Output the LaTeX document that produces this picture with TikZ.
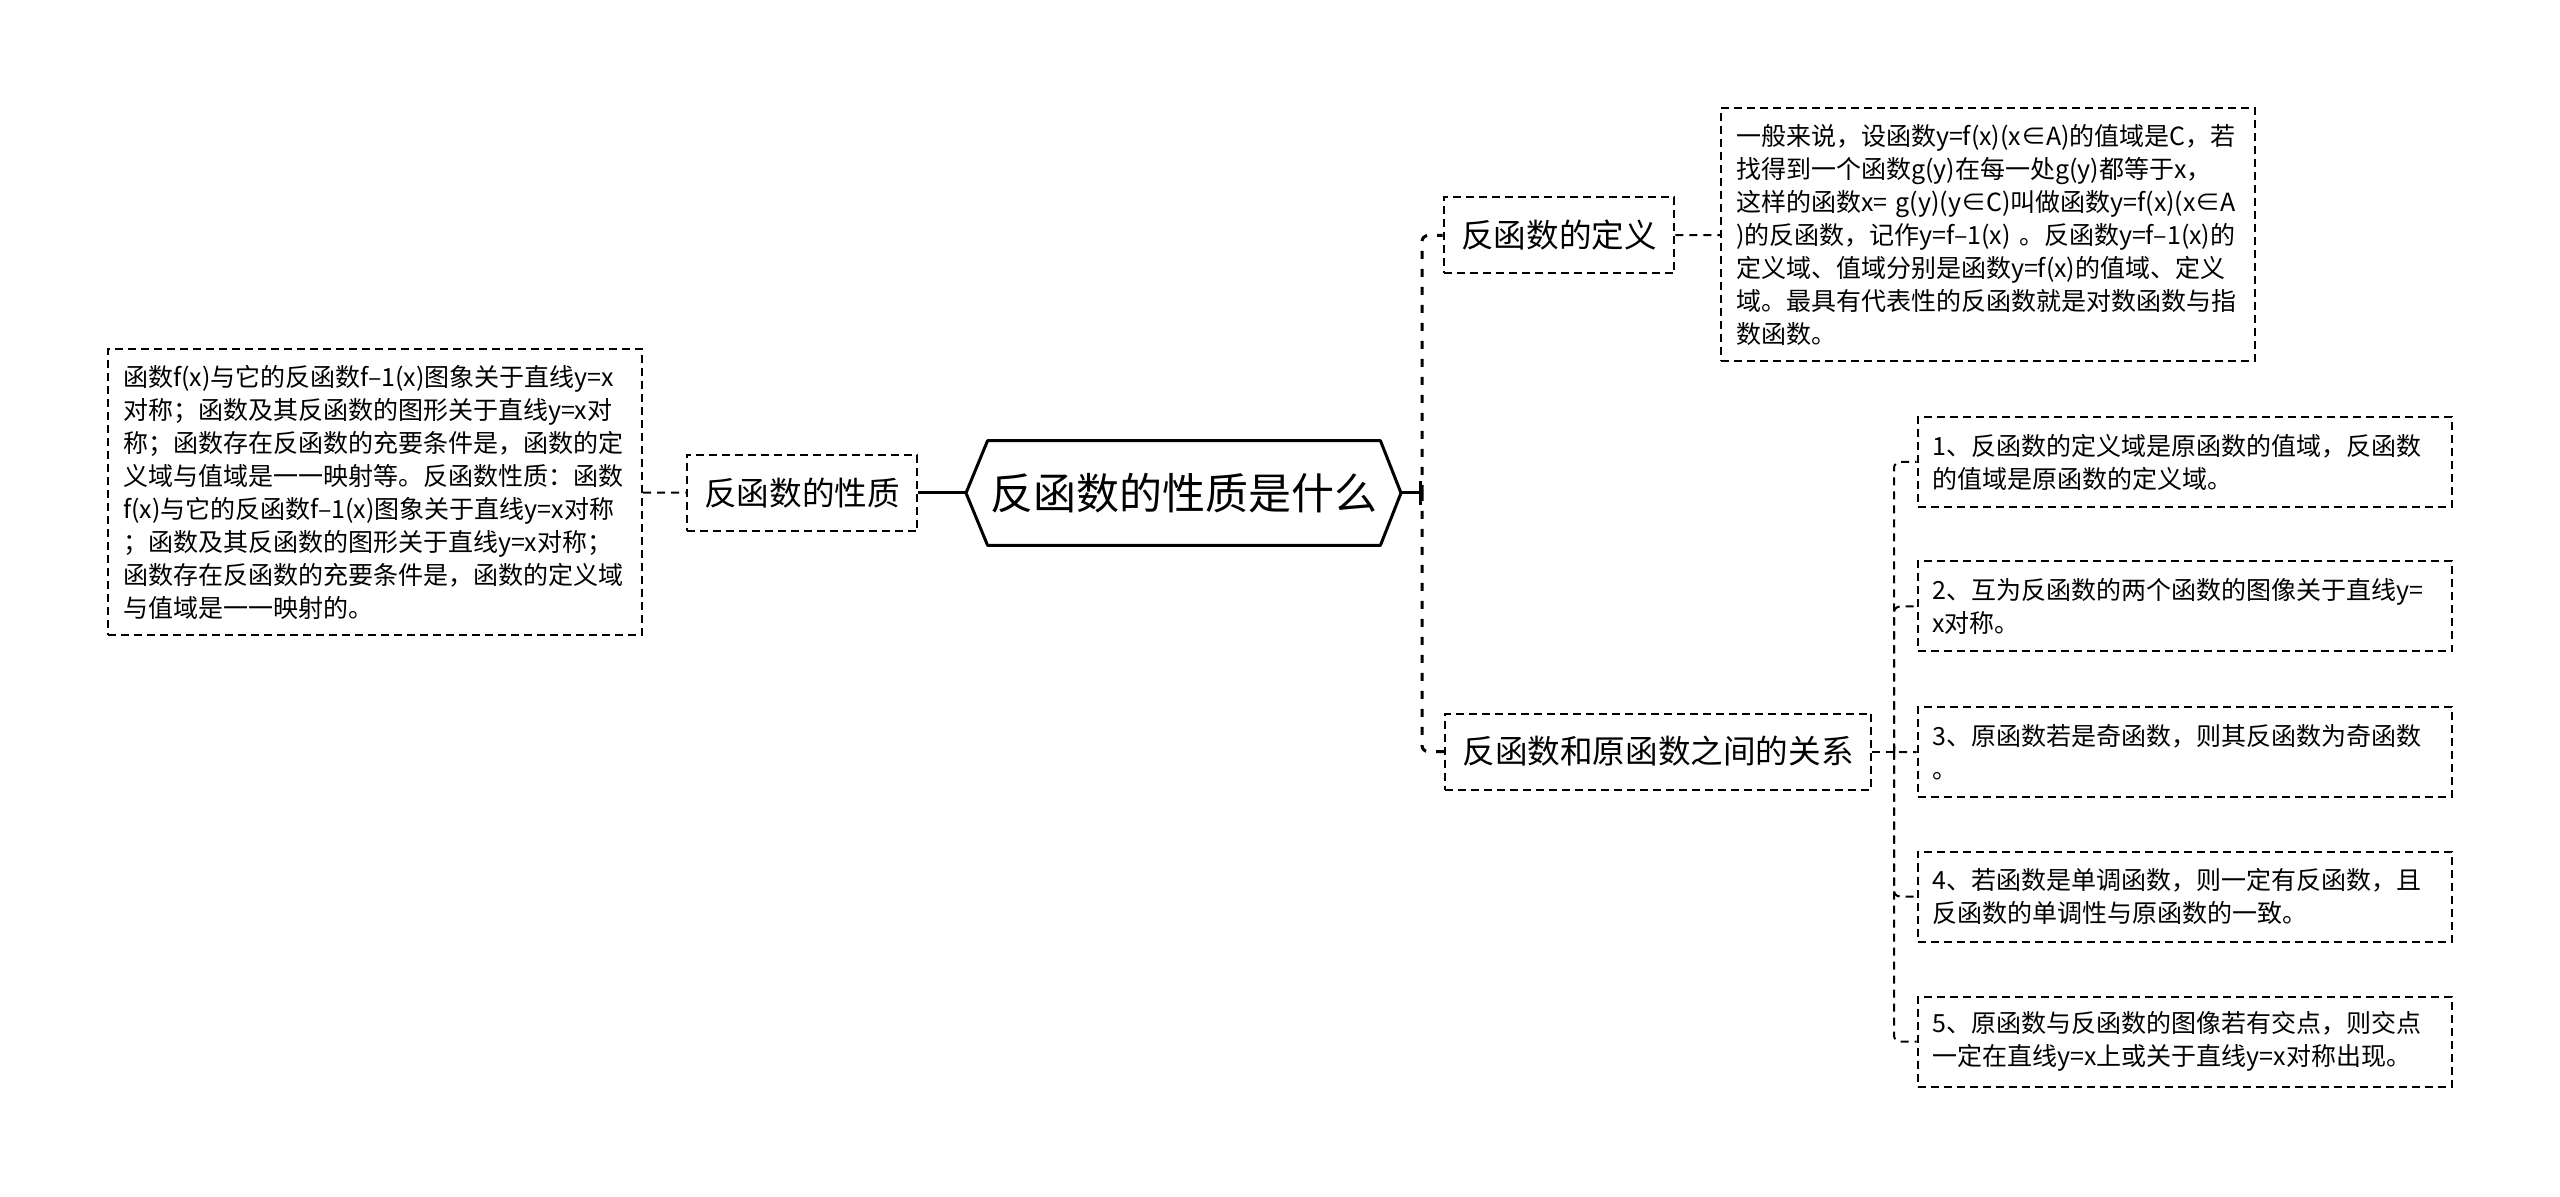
\documentclass[tikz,border=0pt]{standalone}
\usepackage{fontspec}
\setmainfont{Noto Sans CJK SC}
\usetikzlibrary{arrows.meta}
\begin{document}
\begin{tikzpicture}[x=0.5pt, y=-0.5pt,
    topic/.style={rectangle, minimum width=196pt, minimum height=52pt, inner sep=0pt, font=\fontsize{21.5}{26}\selectfont},
    branch/.style={rectangle, draw, dash pattern=on 4pt off 2.5pt, line width=1pt, minimum height=38pt, inner xsep=8.8pt, inner ysep=0pt, font=\fontsize{16.3}{20}\selectfont},
    leaf/.style={rectangle, draw, dash pattern=on 4pt off 2.5pt, line width=1pt, inner xsep=7.5pt, inner ysep=0pt, text width=252pt, align=left, font=\fontsize{12.5}{16.5}\selectfont},
    link/.style={draw, dash pattern=on 4pt off 3pt, line width=1pt, rounded corners=3pt},
    trunk/.style={draw, dash pattern=on 4pt off 5pt, line width=1.5pt, rounded corners=3pt}
]
\useasboundingbox[fill=white] (0,0) rectangle (2560,1197);

% Root
\node[topic] (root) at (1184,493) {反函数的性质是什么};
\coordinate (rootL) at (966,493);
\coordinate (rootR) at (1401,493);
\draw[line width=1.5pt, line join=round] (rootL) -- (root.north west) -- (root.north east) -- (rootR) -- (root.south east) -- (root.south west) -- cycle;

% Left side
\node[branch] (prop) at (802,493) {反函数的性质};
\node[leaf, minimum height=143pt] (proptext) at (375,492) {函数f(x)与它的反函数f–1(x)图象关于直线y=x\\
对称；函数及其反函数的图形关于直线y=x对\\
称；函数存在反函数的充要条件是，函数的定\\
义域与值域是一一映射等。反函数性质：函数\\
f(x)与它的反函数f–1(x)图象关于直线y=x对称\\
；函数及其反函数的图形关于直线y=x对称；\\
函数存在反函数的充要条件是，函数的定义域\\
与值域是一一映射的。};

% Right side
\node[branch] (def) at (1559,235.5) {反函数的定义};
\node[leaf, minimum height=126.5pt] (deftext) at (1988,234.5) {一般来说，设函数y=f(x)(x∈A)的值域是C，若\\
找得到一个函数g(y)在每一处g(y)都等于x，\\
这样的函数x= g(y)(y∈C)叫做函数y=f(x)(x∈A\\
)的反函数，记作y=f–1(x) 。反函数y=f–1(x)的\\
定义域、值域分别是函数y=f(x)的值域、定义\\
域。最具有代表性的反函数就是对数函数与指\\
数函数。};
\node[branch] (rel) at (1658,751.5) {反函数和原函数之间的关系};

% Relations
\node[leaf, minimum height=45pt] (kid1) at (2184.5,462) {1、反函数的定义域是原函数的值域，反函数\\的值域是原函数的定义域。};
\node[leaf, minimum height=45pt] (kid2) at (2184.5,606.5) {2、互为反函数的两个函数的图像关于直线y=\\x对称。};
\node[leaf, minimum height=45pt] (kid3) at (2184.5,752) {3、原函数若是奇函数，则其反函数为奇函数\\。};
\node[leaf, minimum height=45pt] (kid4) at (2184.5,896.5) {4、若函数是单调函数，则一定有反函数，且\\反函数的单调性与原函数的一致。};
\node[leaf, minimum height=45pt] (kid5) at (2184.5,1041.5) {5、原函数与反函数的图像若有交点，则交点\\一定在直线y=x上或关于直线y=x对称出现。};

% Connections
\coordinate (hub) at (1422,493);
\coordinate (kidhub) at (1894,751.5);
\draw[line width=1.5pt] (prop) -- (rootL);
\draw[link] (proptext) -- (prop);
\draw[line width=1.5pt, -{Bar[width=12pt]}] (rootR) -- (hub);
\draw[trunk] (hub) |- (def);
\draw[trunk] (hub) |- (rel);
\draw[link] (def) -- (deftext);
\draw[link] (rel) -- (kidhub);
\foreach \k in {1,...,5}
  \draw[link] (kidhub) |- (kid\k.west);
\end{tikzpicture}
\end{document}
